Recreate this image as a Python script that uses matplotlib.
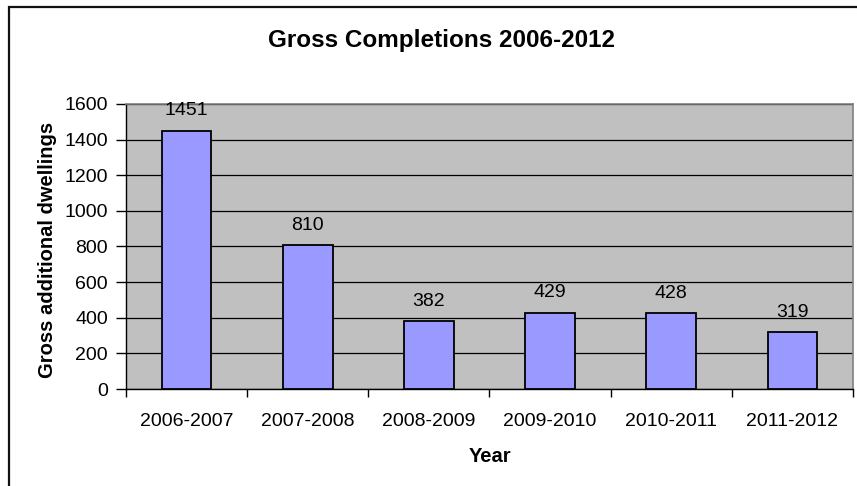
import matplotlib.pyplot as plt
from matplotlib.patches import Rectangle
import numpy as np

plt.rcParams['font.family'] = ['Liberation Sans', 'DejaVu Sans']

years = ['2006-2007', '2007-2008', '2008-2009', '2009-2010', '2010-2011', '2011-2012']
completions = [1451, 810, 382, 429, 428, 319]
y_ticks = [0, 200, 400, 600, 800, 1000, 1200, 1400, 1600]

W, H = 857, 486
fig = plt.figure(figsize=(W / 100, H / 100), dpi=100)
fig.patch.set_facecolor('white')

# outer chart border (cropped on right/bottom in the original)
fig.patches.append(Rectangle((9 / W, -0.1), 1.2, 1 - 6.5 / H + 0.1,
                             transform=fig.transFigure, fill=False,
                             edgecolor='#111111', linewidth=1.6))

ax = fig.add_axes([126 / W, 1 - 389 / H, (853 - 126) / W, (389 - 104) / H])
ax.set_facecolor('#C0C0C0')

x = np.arange(len(years))
bars = ax.bar(x, completions, width=0.41, color='#9999FF',
              edgecolor='black', linewidth=1.3, zorder=3)

for xi, v in zip(x, completions):
    ax.annotate(str(v), (xi, v), xytext=(0, 8), textcoords='offset points',
                ha='center', va='bottom', fontsize=14, zorder=4)

ax.set_xlim(-0.5, len(years) - 0.5)
ax.set_ylim(0, 1600)
ax.set_yticks(y_ticks)
ax.yaxis.grid(True, color='black', linewidth=0.9, zorder=1)
ax.set_axisbelow(True)

ax.set_xticks(x)
ax.set_xticklabels(years, fontsize=14)
ax.set_xticks(np.arange(-0.5, len(years)), minor=True)
ax.tick_params(axis='x', which='major', length=0, pad=17)
ax.tick_params(axis='x', which='minor', length=6, width=1, direction='out')
ax.tick_params(axis='y', length=7, width=1, direction='out', pad=6, labelsize=14)

for s in ['top', 'right']:
    ax.spines[s].set_color('#808080')
    ax.spines[s].set_linewidth(1.2)
for s in ['left', 'bottom']:
    ax.spines[s].set_color('black')
    ax.spines[s].set_linewidth(1.0)

fig.text(441 / W, 1 - 41 / H, 'Gross Completions 2006-2012', ha='center', va='center',
         fontsize=17.5, fontweight='bold')
fig.text(48 / W, 1 - 250 / H, 'Gross additional dwellings', ha='center', va='center',
         rotation=90, fontsize=14.5, fontweight='bold')
fig.text(490 / W, 1 - 456 / H, 'Year', ha='center', va='center',
         fontsize=14.5, fontweight='bold')

fig.savefig('out.png', dpi=100)
